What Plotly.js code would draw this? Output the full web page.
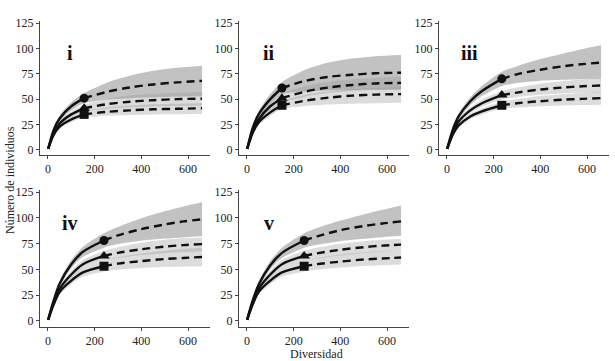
<!DOCTYPE html>
<html>
<head>
<meta charset="utf-8">
<script src="https://cdn.plot.ly/plotly-3.0.1.min.js"></script>
<style>html,body{margin:0;padding:0;background:#fff;}#chart{width:615px;height:361px;}</style>
</head>
<body>
<div id="chart"></div>
<script>
// ---------- Panel i ----------
const xObs_i  = [1, 25, 50, 100, 155];
const xExt_i  = [155, 250, 350, 450, 550, 660];
const xBand_i = [1, 25, 50, 100, 155, 250, 350, 450, 550, 660];
const circObs_i = [1, 20, 31, 43, 51];
const circExt_i = [51, 57, 61.5, 64.5, 66.5, 68];
const circLo_i  = [1, 18, 28, 39, 46, 49.5, 51, 52, 52.5, 52.8];
const circHi_i  = [1, 22, 34, 47, 56, 66, 73, 78, 81, 83];
const triObs_i  = [1, 17, 26, 35, 41];
const triExt_i  = [41, 45, 47.5, 49, 50, 50.5];
const triLo_i   = [1, 15.5, 24, 32, 37.5, 40.5, 42, 42.8, 43.2, 43.5];
const triHi_i   = [1, 18.5, 28, 38, 44.5, 50, 53.5, 55.3, 56.3, 57];
const sqObs_i   = [1, 15, 23, 30, 35];
const sqExt_i   = [35, 37.5, 39, 40, 40.5, 41];
const sqLo_i    = [1, 13.5, 21, 27.5, 32, 33.7, 34.5, 35, 35.2, 35.3];
const sqHi_i    = [1, 16.5, 25, 32.5, 38, 41.8, 43.8, 45, 45.6, 46];

// ---------- Panel ii ----------
const xObs_ii  = [1, 25, 50, 100, 150];
const xExt_ii  = [150, 250, 350, 450, 550, 660];
const xBand_ii = [1, 25, 50, 100, 150, 250, 350, 450, 550, 660];
const circObs_ii = [1, 22, 35, 50, 61];
const circExt_ii = [61, 68, 72, 74, 75.5, 76];
const circLo_ii  = [1, 20, 32, 45, 55, 57.5, 58.5, 59, 59.2, 59.3];
const circHi_ii  = [1, 24, 38, 55, 67, 79, 86, 90, 92.3, 93.5];
const triObs_ii  = [1, 19, 30, 43, 51];
const triExt_ii  = [51, 57.5, 61.5, 64, 65.5, 66];
const triLo_ii   = [1, 17, 27, 39, 46.5, 52.5, 56, 58, 59.2, 60];
const triHi_ii   = [1, 21, 33, 47, 55.5, 63, 67, 69.5, 71, 72];
const sqObs_ii   = [1, 17, 27, 37, 44];
const sqExt_ii   = [44, 48.5, 51.5, 53.5, 54.5, 55];
const sqLo_ii    = [1, 15, 24.5, 33.5, 40, 43.3, 44.8, 45.6, 46.1, 46.5];
const sqHi_ii    = [1, 19, 29.5, 40.5, 48, 54.3, 57.8, 59.8, 61, 62];

// ---------- Panel iii ----------
const xObs_iii  = [1, 25, 50, 100, 150, 235];
const xExt_iii  = [235, 300, 400, 500, 580, 660];
const xBand_iii = [1, 25, 50, 100, 150, 235, 300, 400, 500, 580, 660];
const circObs_iii = [1, 20, 33, 48, 58, 70];
const circExt_iii = [70, 74.5, 79, 82.5, 84.5, 86];
const circLo_iii  = [1, 18, 30, 44, 53, 63, 66, 68.2, 69.2, 69.7, 70];
const circHi_iii  = [1, 22, 36, 52, 63, 77, 82.5, 89.5, 95, 99.3, 103];
const triObs_iii  = [1, 17, 28, 39, 46, 54];
const triExt_iii  = [54, 56.5, 59.5, 61.5, 62.7, 63.5];
const triLo_iii   = [1, 15.5, 26, 36, 42.5, 50, 52, 54.3, 55.6, 56.2, 56.6];
const triHi_iii   = [1, 18.5, 30, 42, 49.5, 58, 61.5, 65.3, 67.8, 69.3, 70.5];
const sqObs_iii   = [1, 15, 24, 33, 38, 44];
const sqExt_iii   = [44, 46, 48, 49.5, 50.3, 51];
const sqLo_iii    = [1, 13.5, 22, 30.5, 35, 40.5, 41.8, 43, 43.8, 44.2, 44.5];
const sqHi_iii    = [1, 16.5, 26, 35.5, 41, 47.5, 50, 53, 55, 56.1, 57];

// ---------- Panel iv ----------
const xObs_iv  = [1, 25, 50, 100, 150, 240];
const xExt_iv  = [240, 300, 400, 500, 580, 660];
const xBand_iv = [1, 25, 50, 100, 150, 240, 300, 400, 500, 580, 660];
const circObs_iv = [1, 20, 36, 55, 67, 78];
const circExt_iv = [78, 83, 89, 93.5, 96.5, 98.5];
const circLo_iv  = [1, 18, 33, 51, 62, 71, 74.5, 77.8, 79.8, 81, 82];
const circHi_iv  = [1, 22, 39, 59, 72, 85, 91, 99.5, 106.3, 111, 115];
const triObs_iv  = [1, 18, 31, 45, 55, 63];
const triExt_iv  = [63, 66, 69.5, 72, 73.5, 74.5];
const triLo_iv   = [1, 16, 28.5, 41.5, 51, 58, 60.8, 63.8, 65.7, 66.7, 67.5];
const triHi_iv   = [1, 20, 33.5, 48.5, 59, 68, 71.5, 75.8, 78.7, 80.1, 81];
const sqObs_iv   = [1, 16, 28, 39, 47, 53];
const sqExt_iv   = [53, 55.5, 58, 60, 61, 62];
const sqLo_iv    = [1, 14, 25.5, 35.5, 43, 48, 49.6, 51.3, 52.3, 52.7, 53];
const sqHi_iv    = [1, 18, 30.5, 42.5, 51, 58, 61.5, 65.3, 68, 69.7, 71];

// ---------- Panel v ----------
const xObs_v  = [1, 25, 50, 100, 150, 245];
const xExt_v  = [245, 300, 400, 500, 580, 660];
const xBand_v = [1, 25, 50, 100, 150, 245, 300, 400, 500, 580, 660];
const circObs_v = [1, 20, 35, 54, 66, 78];
const circExt_v = [78, 82, 88, 92, 94.5, 96.5];
const circLo_v  = [1, 18, 32, 50, 61, 71, 73.8, 77.3, 79.6, 81.2, 82.5];
const circHi_v  = [1, 22, 38, 58, 71, 85, 90, 97.3, 103.3, 107.8, 112];
const triObs_v  = [1, 18, 31, 45, 55, 63];
const triExt_v  = [63, 65.5, 69, 71.5, 73, 74];
const triLo_v   = [1, 16, 28.5, 41.5, 51, 58, 60.3, 63.4, 65.8, 67.3, 68.5];
const triHi_v   = [1, 20, 33.5, 48.5, 59, 68, 71, 74.8, 77.3, 78.6, 79.5];
const sqObs_v   = [1, 16, 28, 39, 47, 53];
const sqExt_v   = [53, 55, 57.5, 59.5, 60.5, 61.5];
const sqLo_v    = [1, 14, 25.5, 35.5, 43, 48, 49.6, 51.7, 53.2, 54, 54.6];
const sqHi_v    = [1, 18, 30.5, 42.5, 51, 58, 60.8, 64.3, 66.5, 67.7, 68.5];

const panelLabels = ['i', 'ii', 'iii', 'iv', 'v'];
const xTicks = [0, 200, 400, 600];
const yTicks = [0, 25, 50, 75, 100, 125];
const xTitle = 'Diversidad';
const yTitle = 'Número de individuos';

const panelData = [
  [xObs_i, xExt_i, xBand_i, [[circObs_i, circExt_i, circLo_i, circHi_i], [triObs_i, triExt_i, triLo_i, triHi_i], [sqObs_i, sqExt_i, sqLo_i, sqHi_i]]],
  [xObs_ii, xExt_ii, xBand_ii, [[circObs_ii, circExt_ii, circLo_ii, circHi_ii], [triObs_ii, triExt_ii, triLo_ii, triHi_ii], [sqObs_ii, sqExt_ii, sqLo_ii, sqHi_ii]]],
  [xObs_iii, xExt_iii, xBand_iii, [[circObs_iii, circExt_iii, circLo_iii, circHi_iii], [triObs_iii, triExt_iii, triLo_iii, triHi_iii], [sqObs_iii, sqExt_iii, sqLo_iii, sqHi_iii]]],
  [xObs_iv, xExt_iv, xBand_iv, [[circObs_iv, circExt_iv, circLo_iv, circHi_iv], [triObs_iv, triExt_iv, triLo_iv, triHi_iv], [sqObs_iv, sqExt_iv, sqLo_iv, sqHi_iv]]],
  [xObs_v, xExt_v, xBand_v, [[circObs_v, circExt_v, circLo_v, circHi_v], [triObs_v, triExt_v, triLo_v, triHi_v], [sqObs_v, sqExt_v, sqLo_v, sqHi_v]]]
];

const symbols = ['circle', 'triangle-up', 'square'];
const symSizes = [9, 10, 9];
const bandFills = ['rgba(120,120,120,0.45)', 'rgba(150,150,150,0.33)', 'rgba(150,150,150,0.33)'];

const traces = [];
panelData.forEach((p, k) => {
  const xa = k === 0 ? 'x' : 'x' + (k + 1);
  const ya = k === 0 ? 'y' : 'y' + (k + 1);
  const [xo, xe, xb, series] = p;
  // confidence bands: lower edge, then upper edge filled down to it
  series.forEach((s, j) => {
    traces.push({
      x: xb, y: s[2], xaxis: xa, yaxis: ya, type: 'scatter', mode: 'lines',
      line: {width: 0, color: 'rgba(0,0,0,0)', shape: 'spline', smoothing: 0.7},
      hoverinfo: 'skip', showlegend: false
    });
    traces.push({
      x: xb, y: s[3], xaxis: xa, yaxis: ya, type: 'scatter', mode: 'lines',
      fill: 'tonexty', fillcolor: bandFills[j],
      line: {width: 0, color: 'rgba(0,0,0,0)', shape: 'spline', smoothing: 0.7},
      hoverinfo: 'skip', showlegend: false
    });
  });
  // rarefaction (solid) and extrapolation (dashed)
  series.forEach((s, j) => {
    traces.push({x: xo, y: s[0], xaxis: xa, yaxis: ya, type: 'scatter', mode: 'lines',
      line: {color: '#111', width: 2.4, shape: 'spline', smoothing: 0.9}, showlegend: false});
    traces.push({x: xe, y: s[1], xaxis: xa, yaxis: ya, type: 'scatter', mode: 'lines',
      line: {color: '#111', width: 2.4, dash: '8px,5px', shape: 'spline', smoothing: 0.9}, showlegend: false});
  });
  // markers at the observed sample
  series.forEach((s, j) => {
    traces.push({x: [xo[xo.length - 1]], y: [s[0][s[0].length - 1]], xaxis: xa, yaxis: ya,
      type: 'scatter', mode: 'markers',
      marker: {symbol: symbols[j], size: symSizes[j], color: '#111'}, showlegend: false});
  });
});

const W = 615, H = 361;
const colPx = [[40, 210], [239, 409], [439, 609]];
const rowPx = [[21, 155], [190, 327]];
const serif = 'Liberation Serif, Times New Roman, serif';
const tickFont = {family: serif, size: 12, color: '#222'};

function xax(c) {
  return {domain: [colPx[c][0] / W, colPx[c][1] / W], range: [-34, 694], tickvals: xTicks,
    showgrid: false, zeroline: false, showline: true, linecolor: '#444', linewidth: 1,
    ticks: 'outside', ticklen: 3, tickcolor: '#444', tickfont: tickFont, fixedrange: true};
}
function yax(r, range) {
  return {domain: [(H - rowPx[r][1]) / H, (H - rowPx[r][0]) / H], range: range, tickvals: yTicks,
    showgrid: false, zeroline: false, showline: true, linecolor: '#444', linewidth: 1,
    ticks: 'outside', ticklen: 3, tickcolor: '#444', tickfont: tickFont, fixedrange: true};
}

const layout = {
  width: W, height: H,
  margin: {l: 0, r: 0, t: 0, b: 0},
  paper_bgcolor: '#fff', plot_bgcolor: 'rgba(0,0,0,0)',
  showlegend: false,
  xaxis: Object.assign(xax(0), {anchor: 'y'}),
  yaxis: Object.assign(yax(0, [-5, 127]), {anchor: 'x'}),
  xaxis2: Object.assign(xax(1), {anchor: 'y2'}),
  yaxis2: Object.assign(yax(0, [-5, 127]), {anchor: 'x2'}),
  xaxis3: Object.assign(xax(2), {anchor: 'y3'}),
  yaxis3: Object.assign(yax(0, [-5, 127]), {anchor: 'x3'}),
  xaxis4: Object.assign(xax(0), {anchor: 'y4'}),
  yaxis4: Object.assign(yax(1, [-6, 127]), {anchor: 'x4'}),
  xaxis5: Object.assign(xax(1), {anchor: 'y5'}),
  yaxis5: Object.assign(yax(1, [-6, 127]), {anchor: 'x5'}),
  annotations: panelLabels.map((t, k) => ({
    text: '<b>' + t + '</b>', xref: k === 0 ? 'x' : 'x' + (k + 1), yref: k === 0 ? 'y' : 'y' + (k + 1),
    x: 95, y: 95, showarrow: false, xanchor: 'center', yanchor: 'middle',
    font: {family: serif, size: 20, color: '#111'}
  })).concat([
    {text: xTitle, xref: 'paper', yref: 'paper', x: 316 / W, y: (H - 353.5) / H, showarrow: false,
      xanchor: 'center', yanchor: 'middle', font: {family: serif, size: 12, color: '#222'}},
    {text: yTitle, xref: 'paper', yref: 'paper', x: 10 / W, y: (H - 180) / H, showarrow: false, textangle: -90,
      xanchor: 'center', yanchor: 'middle', font: {family: serif, size: 12, color: '#222'}}
  ])
};

Plotly.newPlot('chart', traces, layout, {staticPlot: true, displayModeBar: false});
</script>
</body>
</html>
